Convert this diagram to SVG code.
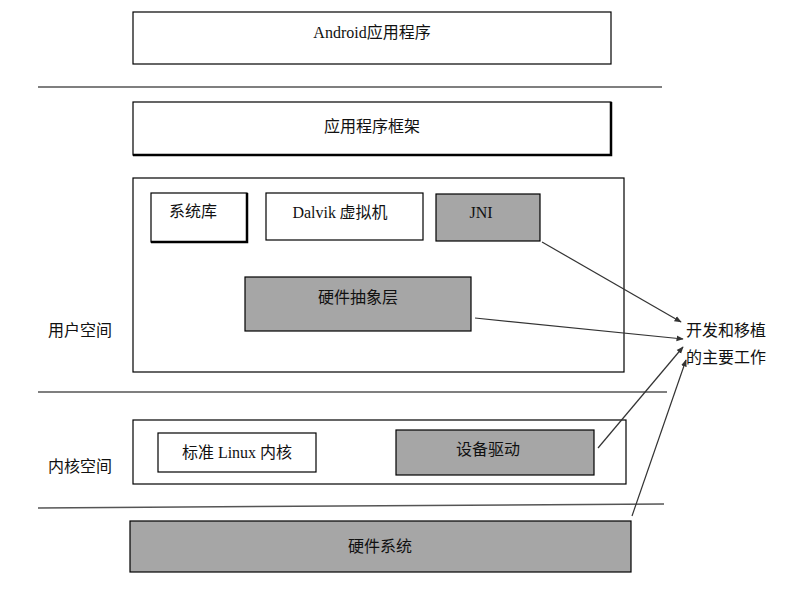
<svg xmlns="http://www.w3.org/2000/svg" width="788" height="590" viewBox="0 0 788 590">
<style>
.b{fill:#fff;stroke:#000;stroke-width:1.2}
.g{fill:#a6a6a6;stroke:#000;stroke-width:1.2}
.s{fill:none;stroke:#000;stroke-width:2.5}
.sep{stroke:#555;stroke-width:1.5}
text{font-family:"Liberation Serif","Noto Sans CJK SC",serif;font-size:16px;fill:#111}
.c{text-anchor:middle}
.k{font-family:"Noto Sans CJK SC",sans-serif}
.con{stroke:#333;stroke-width:1.2;fill:none;marker-end:url(#a)}
</style>
<defs><marker id="a" viewBox="0 0 10 10" refX="9" refY="5" markerWidth="6" markerHeight="6" orient="auto"><path d="M0,1 L10,5 L0,9z" fill="#333"/></marker></defs>
<rect width="788" height="590" fill="#fff"/>
<g id="android"><rect class="b" x="133" y="12" width="478" height="52"/><text class="c" x="372" y="38">Android<tspan class="k">应用程序</tspan></text></g>
<line class="sep" x1="38" y1="87" x2="662" y2="87"/>
<g id="framework"><rect class="b" x="133" y="102" width="478" height="53"/><path class="s" d="M133,155H611V102"/><text class="c k" x="372" y="132">应用程序框架</text></g>
<g id="user"><rect class="b" x="133" y="178" width="491" height="194"/><text class="k" x="48" y="336">用户空间</text></g>
<g id="syslib"><rect class="b" x="151" y="193" width="96" height="49"/><path class="s" d="M151,242H247V193"/><text class="c k" x="193" y="217">系统库</text></g>
<g id="dalvik"><rect class="b" x="266" y="193" width="157" height="47"/><text class="c" x="340" y="218">Dalvik<tspan class="k"> 虚拟机</tspan></text></g>
<g id="jni"><rect class="g" x="436" y="194" width="104" height="47"/><text class="c" x="481" y="218">JNI</text></g>
<g id="hal"><rect class="g" x="245" y="277" width="226" height="54"/><text class="c k" x="358" y="303">硬件抽象层</text></g>
<line class="sep" x1="38" y1="392" x2="667" y2="392"/>
<g id="kernel"><rect class="b" x="133" y="420" width="493" height="64"/><text class="k" x="48" y="472">内核空间</text></g>
<g id="linux"><rect class="b" x="158" y="433" width="158" height="39"/><text class="c" x="237" y="458"><tspan class="k">标准</tspan> Linux <tspan class="k">内核</tspan></text></g>
<g id="driver"><rect class="g" x="396" y="430" width="198" height="45"/><text class="c k" x="488" y="455">设备驱动</text></g>
<line class="sep" x1="38" y1="508" x2="664" y2="504"/>
<g id="hardware"><rect class="g" x="130" y="521" width="501" height="51"/><text class="c k" x="380" y="552">硬件系统</text></g>
<g id="work"><text class="k" x="686" y="336">开发和移植</text><text class="k" x="686" y="363">的主要工作</text></g>
<g id="connectors">
<line class="con" x1="542" y1="242" x2="681" y2="322"/>
<line class="con" x1="475" y1="318" x2="683" y2="339"/>
<line class="con" x1="598" y1="448" x2="683" y2="347"/>
<line class="con" x1="632" y1="516" x2="686" y2="360"/>
</g>
</svg>
